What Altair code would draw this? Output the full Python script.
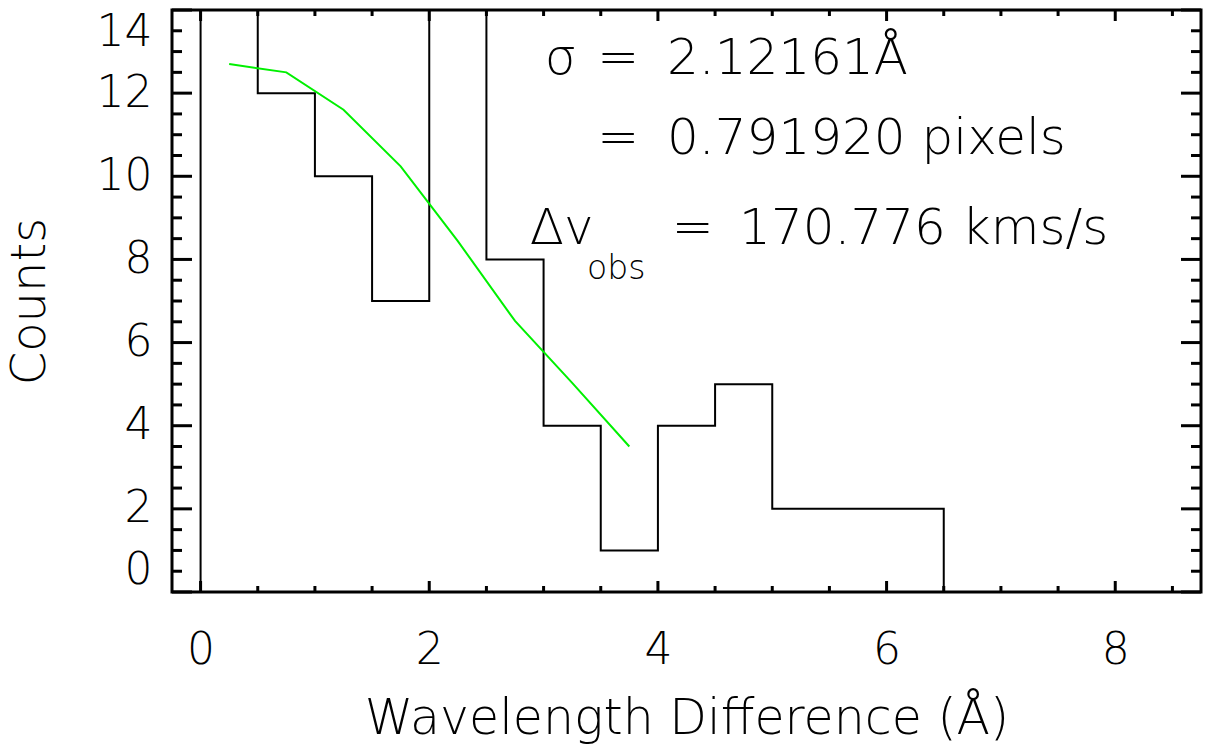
import altair as alt
import pandas as pd

# ---------------- data ----------------
# histogram (step outline): bin left edges and counts (first point closes the left side)
hist_x = [0.0, 0.0, 0.5, 1.0, 1.5, 2.0, 2.5, 3.0, 3.5, 4.0, 4.5, 5.0, 5.5, 6.0, 6.5]
hist_y = [0, 15, 12, 10, 7, 15, 8, 4, 1, 4, 5, 2, 2, 2, 0]

# gaussian fit (green)
fit_x = [0.25, 0.75, 1.25, 1.75, 2.25, 2.75, 3.25, 3.75]
fit_y = [12.70, 12.50, 11.60, 10.24, 8.44, 6.52, 5.03, 3.50]

x_major = [0, 2, 4, 6, 8]
x_minor = [0.5, 1.0, 1.5, 2.5, 3.0, 3.5, 4.5, 5.0, 5.5, 6.5, 7.0, 7.5, 8.5]
y_major = [0, 2, 4, 6, 8, 10, 12, 14]
y_minor = [0.5, 1, 1.5, 2.5, 3, 3.5, 4.5, 5, 5.5, 6.5, 7, 7.5, 8.5, 9, 9.5,
           10.5, 11, 11.5, 12.5, 13, 13.5]

# annotation pieces (data coordinates)
ann_text = ["σ", "=", "2.12161Å", "=", "0.791920 pixels", "Δv", "=", "170.776 kms/s"]
ann_x = [3.01, 3.47, 4.08, 3.47, 4.08, 2.88, 4.12, 4.71]
ann_y = [12.47, 12.47, 12.47, 10.53, 10.53, 8.37, 8.37, 8.37]
sub_text = ["obs"]
sub_x = [3.38]
sub_y = [7.53]

X_DOMAIN = [-0.25, 8.75]
Y_DOMAIN = [0, 14]
W, H = 1029, 582
FONT = "DejaVu Sans"
FW = 200

xs = alt.Scale(domain=X_DOMAIN, nice=False, zero=False)
ys = alt.Scale(domain=Y_DOMAIN, nice=False, zero=False)

hist_df = pd.DataFrame({"x": hist_x, "y": hist_y, "i": list(range(len(hist_x)))})
fit_df = pd.DataFrame({"x": fit_x, "y": fit_y})

hist = alt.Chart(hist_df).mark_line(
    interpolate="step-after", color="black", strokeWidth=2, clip=True
).encode(
    x=alt.X("x:Q", scale=xs, axis=alt.Axis(
        values=x_major, format="d", ticks=False, tickSize=0, domain=False, grid=False,
        labelFont=FONT, labelFontWeight=FW, labelFontSize=44, labelColor="black",
        labelPadding=36, labelFlush=False,
        title="Wavelength Difference (Å)", titleFont=FONT, titleFontWeight=FW,
        titleFontSize=49, titleColor="black", titlePadding=22)),
    y=alt.Y("y:Q", scale=ys, axis=alt.Axis(
        values=y_major, format="d", ticks=False, tickSize=0, domain=False, grid=False,
        labelFont=FONT, labelFontWeight=FW, labelFontSize=44, labelColor="black",
        labelPadding=20, labelFlush=True,
        title="Counts", titleFont=FONT, titleFontWeight=FW,
        titleFontSize=48, titleColor="black", titlePadding=42)),
    order="i:Q",
)

fit = alt.Chart(fit_df).mark_line(color="#00f000", strokeWidth=2, clip=True).encode(
    x=alt.X("x:Q", scale=xs), y=alt.Y("y:Q", scale=ys)
)

def vticks(vals, length, top):
    df = pd.DataFrame({"v": vals})
    if top:
        enc = dict(y=alt.value(0), y2=alt.value(length))
    else:
        enc = dict(y=alt.value(H), y2=alt.value(H - length))
    return alt.Chart(df).mark_rule(color="black", strokeWidth=3).encode(
        x=alt.X("v:Q", scale=xs), **enc)

def hticks(vals, length, left):
    df = pd.DataFrame({"v": vals})
    if left:
        enc = dict(x=alt.value(0), x2=alt.value(length))
    else:
        enc = dict(x=alt.value(W), x2=alt.value(W - length))
    return alt.Chart(df).mark_rule(color="black", strokeWidth=3).encode(
        y=alt.Y("v:Q", scale=ys), **enc)

ticks = [
    vticks(x_major, 11, False), vticks(x_minor, 6, False),
    vticks(x_major, 11, True), vticks(x_minor, 6, True),
    hticks(y_major, 20, True), hticks(y_minor, 10, True),
    hticks(y_major, 20, False), hticks(y_minor, 10, False),
]

ann_df = pd.DataFrame({"t": ann_text, "x": ann_x, "y": ann_y})
ann = alt.Chart(ann_df).mark_text(
    align="left", baseline="alphabetic", font=FONT, fontWeight=FW, fontSize=50, color="black"
).encode(x=alt.X("x:Q", scale=xs), y=alt.Y("y:Q", scale=ys), text="t:N")

sub_df = pd.DataFrame({"t": sub_text, "x": sub_x, "y": sub_y})
sub = alt.Chart(sub_df).mark_text(
    align="left", baseline="alphabetic", font=FONT, fontWeight=FW, fontSize=33,
    color="black"
).encode(x=alt.X("x:Q", scale=xs), y=alt.Y("y:Q", scale=ys), text="t:N")

chart = alt.layer(hist, fit, *ticks, ann, sub).properties(
    width=W, height=H,
    padding={"left": 172, "top": 10, "right": 10, "bottom": 160},
    autosize=alt.AutoSizeParams(type="none"),
    background="white",
).configure_view(stroke="black", strokeWidth=3)

chart.save("out.html", embed_options={"renderer": "svg", "actions": False})
